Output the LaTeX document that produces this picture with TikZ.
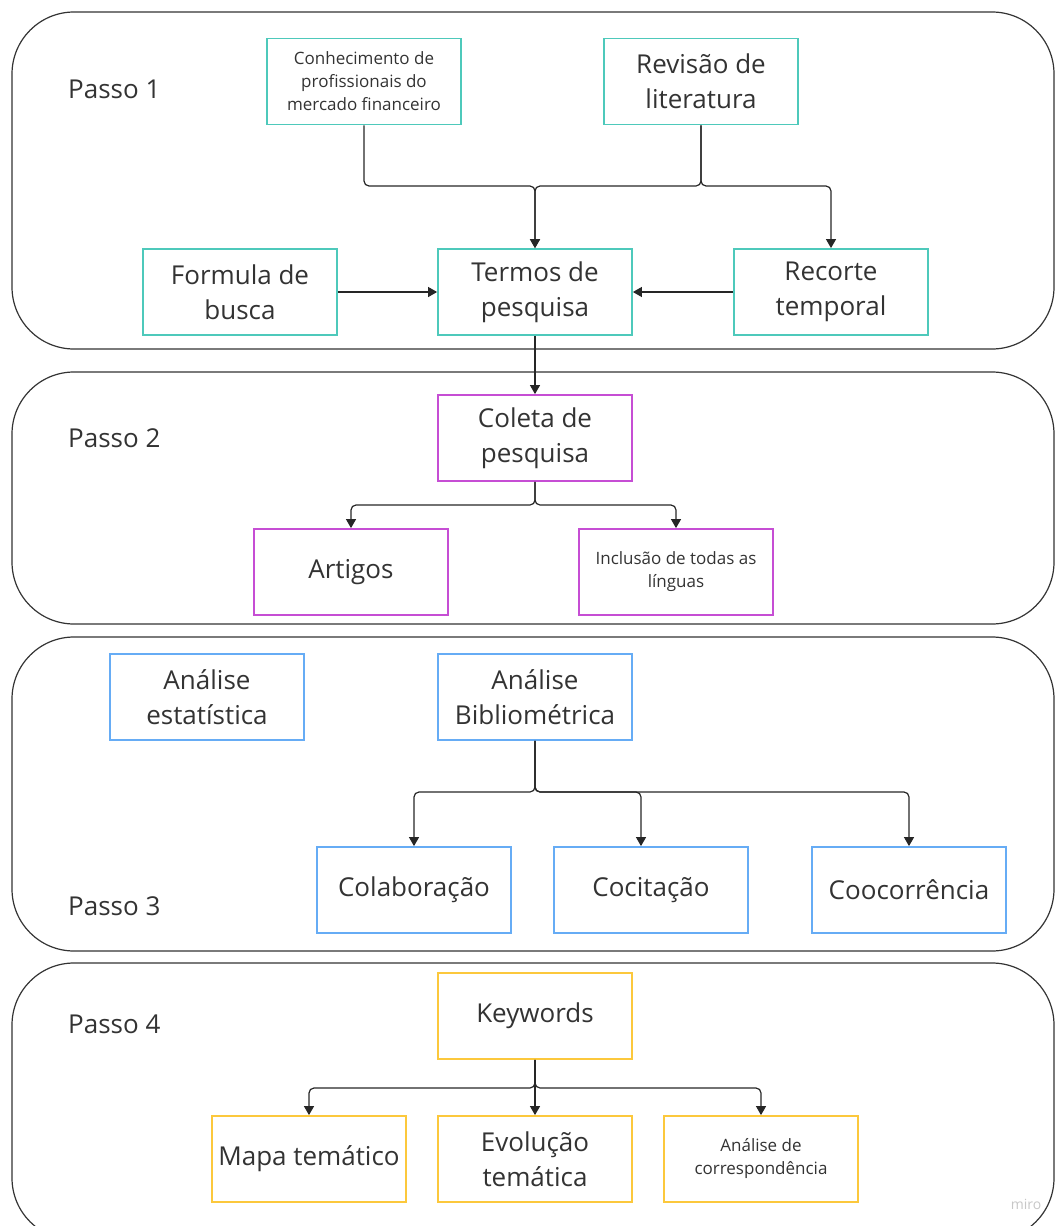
\documentclass[tikz,border=0pt]{standalone}
\usepackage{fontspec}
\setmainfont{Open Sans}
\usetikzlibrary{arrows.meta, positioning}

\definecolor{textgray}{RGB}{51,51,51}
\definecolor{tealbox}{RGB}{78,201,187}
\definecolor{pinkbox}{RGB}{198,78,212}
\definecolor{bluebox}{RGB}{102,172,245}
\definecolor{yellowbox}{RGB}{252,200,60}
\newcommand{\boxfont}{\fontsize{26}{35}\selectfont}
\newcommand{\smallboxfont}{\fontsize{17}{23}\selectfont}

\begin{document}
\begin{tikzpicture}[
    x=1pt, y=-1pt,
    >={Triangle[length=9pt, width=10pt]},
    % Step panel style
    panel/.style={draw=black!80, line width=1.2pt, rounded corners=62pt},
    % Step label style
    passo/.style={anchor=west, inner sep=0pt, text=textgray, font=\boxfont},
    % Box styles
    box/.style={rectangle, line width=1.8pt, minimum width=194pt, minimum height=86pt, inner sep=2pt, align=center, text=textgray, font=\boxfont},
    smallbox/.style={box, font=\smallboxfont},
    % Connector style
    flow/.style={->, black!85, line width=1.2pt, rounded corners=5pt}
]

    \clip (0,0) rectangle (1055,1226);

    % === PANELS ===
    \draw[panel] (12,12) rectangle (1054,349);
    \draw[panel] (12,372) rectangle (1054,624);
    \draw[panel] (12,637) rectangle (1054,951);
    \draw[panel] (12,963) rectangle (1054,1240);

    % === PASSO 1 ===
    \node[passo] (p1) at (68,89) {Passo 1};

    \node[smallbox, draw=tealbox] (conhec) at (364,81.5) {Conhecimento de\\profissionais do\\mercado financeiro};
    \node[box, draw=tealbox] (revisao) at (701,81.5) {Revisão de\\literatura};
    \node[box, draw=tealbox] (formula) at (240,292) {Formula de\\busca};
    \node[box, draw=tealbox] (termos) at (535,292) {Termos de\\pesquisa};
    \node[box, draw=tealbox] (recorte) at (831,292) {Recorte\\temporal};

    \coordinate (j1) at (535,186);
    \draw[flow] (conhec.south) |- (j1) -- (termos.north);
    \draw[flow] (revisao.south) |- (j1) -- (termos.north);
    \draw[flow] (revisao.south) -- (revisao.south |- j1) -| (recorte.north);
    \draw[flow] (formula) -- (termos);
    \draw[flow] (recorte) -- (termos);

    % === PASSO 2 ===
    \node[passo] (p2) at (68,438) {Passo 2};

    \node[box, draw=pinkbox] (coleta) at (535,438) {Coleta de\\pesquisa};
    \node[box, draw=pinkbox] (artigos) at (351,572) {Artigos};
    \node[smallbox, draw=pinkbox] (linguas) at (676,572) {Inclusão de todas as\\línguas};

    \draw[flow] (termos) -- (coleta);

    \coordinate (j2) at (535,505);
    \draw[flow] (coleta.south) -- (j2) -| (artigos.north);
    \draw[flow] (coleta.south) -- (j2) -| (linguas.north);

    % === PASSO 3 ===
    \node[passo] (p3) at (68,906) {Passo 3};

    \node[box, draw=bluebox] (estat) at (207,697) {Análise\\estatística};
    \node[box, draw=bluebox] (biblio) at (535,697) {Análise\\Bibliométrica};
    \node[box, draw=bluebox] (colab) at (414,890) {Colaboração};
    \node[box, draw=bluebox] (cocit) at (651,890) {Cocitação};
    \node[box, draw=bluebox] (cooc) at (909,890) {Coocorrência};

    \coordinate (j3) at (535,792);
    \draw[flow] (biblio.south) -- (j3) -| (colab.north);
    \draw[flow] (biblio.south) -- (j3) -| ([xshift=-10pt]cocit.north);
    \draw[flow] (biblio.south) -- (j3) -| (cooc.north);

    % === PASSO 4 ===
    \node[passo] (p4) at (68,1024) {Passo 4};

    \node[box, draw=yellowbox] (keywords) at (535,1016) {Keywords};
    \node[box, draw=yellowbox] (mapa) at (309,1159) {Mapa temático};
    \node[box, draw=yellowbox] (evol) at (535,1159) {Evolução\\temática};
    \node[smallbox, draw=yellowbox] (corresp) at (761,1159) {Análise de\\correspondência};

    \coordinate (j4) at (535,1088);
    \draw[flow] (keywords.south) -- (j4) -| (mapa.north);
    \draw[flow] (keywords.south) -- (evol.north);
    \draw[flow] (keywords.south) -- (j4) -| (corresp.north);

    \node[font=\fontsize{14}{16}\selectfont, text=black!22] (miro) at (1026,1204) {miro};

\end{tikzpicture}
\end{document}
